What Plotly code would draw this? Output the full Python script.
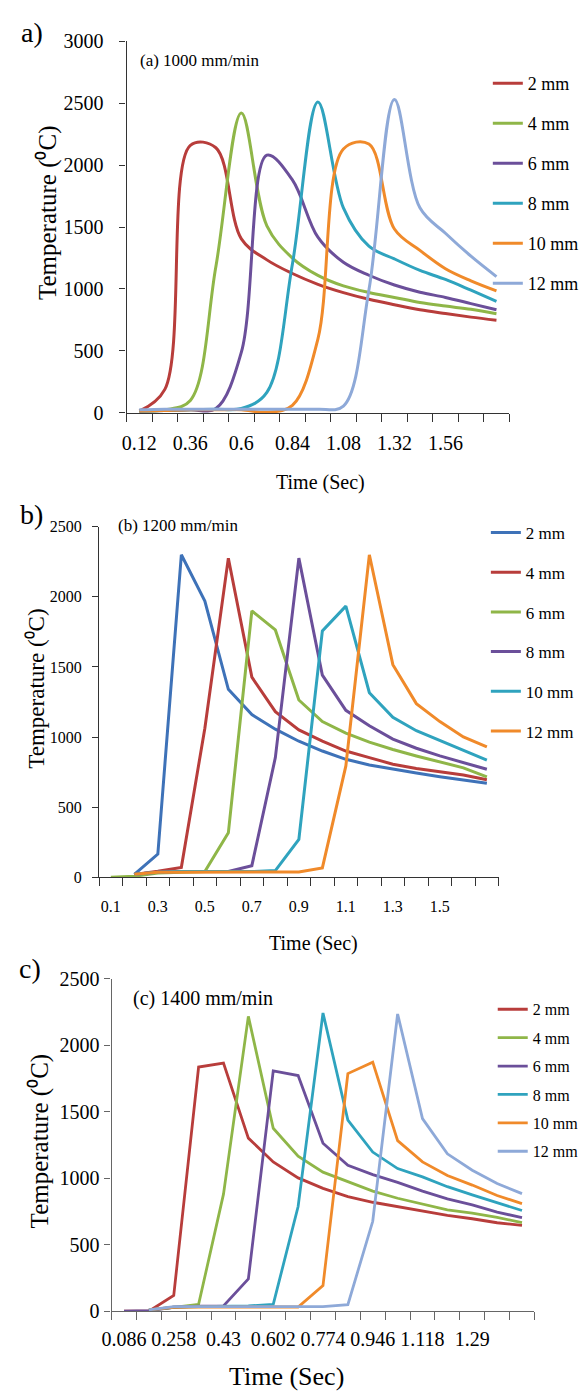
import plotly.graph_objects as go

W, H = 584, 1400
FONT = "Liberation Serif, Times New Roman, serif"

sizes = ["2 mm", "4 mm", "6 mm", "8 mm", "10 mm", "12 mm"]

# (a) 1000 mm/min
time_a = [0.12, 0.24, 0.36, 0.48, 0.60, 0.72, 0.84, 0.96, 1.08, 1.20, 1.32, 1.44, 1.56, 1.68, 1.80]
ticks_a = ["0.12", "0.36", "0.6", "0.84", "1.08", "1.32", "1.56"]
a_2mm = [15, 190, 2160, 2140, 1405, 1235, 1125, 1038, 971, 917, 873, 833, 802, 773, 748]
a_4mm = [15, 25, 100, 1180, 2420, 1510, 1250, 1110, 1025, 972, 932, 891, 862, 836, 800]
a_6mm = [15, 20, 25, 35, 490, 2080, 1880, 1418, 1216, 1111, 1032, 974, 932, 882, 832]
a_8mm = [15, 20, 25, 30, 35, 165, 1200, 2510, 1655, 1346, 1243, 1150, 1077, 990, 900]
a_10mm = [15, 20, 25, 25, 25, 5, 60, 596, 2130, 2170, 1484, 1312, 1164, 1066, 985]
a_12mm = [25, 30, 30, 30, 30, 30, 30, 30, 55, 992, 2530, 1655, 1450, 1265, 1100]

# (b) 1200 mm/min
time_b = [0.1, 0.2, 0.3, 0.4, 0.5, 0.6, 0.7, 0.8, 0.9, 1.0, 1.1, 1.2, 1.3, 1.4, 1.5, 1.6, 1.7]
ticks_b = ["0.1", "0.3", "0.5", "0.7", "0.9", "1.1", "1.3", "1.5"]
b_2mm = [None, 20, 165, 2300, 1970, 1340, 1160, 1056, 970, 900, 841, 801, 771, 743, 717, 695, 670]
b_4mm = [None, 20, 42, 70, 1063, 2276, 1427, 1181, 1051, 970, 900, 853, 806, 776, 752, 729, 695]
b_6mm = [0, 7, 30, 35, 40, 316, 1900, 1764, 1264, 1110, 1028, 963, 911, 865, 822, 780, 715]
b_8mm = [None, 20, 35, 40, 40, 40, 82, 853, 2276, 1441, 1190, 1080, 985, 920, 865, 815, 770]
b_10mm = [None, 20, 35, 40, 40, 40, 40, 47, 269, 1757, 1934, 1316, 1140, 1045, 975, 900, 835]
b_12mm = [None, 20, 35, 35, 35, 35, 35, 35, 37, 66, 794, 2300, 1516, 1238, 1110, 1000, 930]

# (c) 1400 mm/min
time_c = [0.086, 0.172, 0.258, 0.344, 0.43, 0.516, 0.602, 0.688, 0.774, 0.86, 0.946,
          1.032, 1.118, 1.204, 1.29, 1.376, 1.462]
ticks_c = ["0.086", "0.258", "0.43", "0.602", "0.774", "0.946", "1.118", "1.29"]
c_2mm = [0, 0, 119, 1835, 1865, 1301, 1122, 1002, 923, 861, 819, 787, 757, 720, 695, 665, 645]
c_4mm = [None, 7, 32, 52, 880, 2216, 1375, 1166, 1045, 973, 903, 849, 804, 762, 738, 705, 666]
c_6mm = [0, 5, 30, 38, 40, 243, 1806, 1771, 1262, 1097, 1027, 968, 903, 844, 799, 745, 703]
c_8mm = [None, 10, 30, 35, 38, 40, 52, 787, 2241, 1437, 1196, 1072, 1010, 936, 874, 815, 757]
c_10mm = [None, 10, 30, 32, 32, 32, 32, 32, 193, 1786, 1872, 1282, 1122, 1020, 948, 870, 809]
c_12mm = [None, 10, 35, 35, 35, 35, 35, 35, 35, 50, 676, 2234, 1447, 1183, 1060, 960, 884]

RED, GREEN, PURPLE = "#B83D3B", "#8FB648", "#6B4F9A"
TEAL, ORANGE, LIGHT, BLUE = "#2FA3BE", "#F08A2A", "#8EA9D8", "#3E72B8"
colors_ac = [RED, GREEN, PURPLE, TEAL, ORANGE, LIGHT]
colors_b = [BLUE, RED, GREEN, PURPLE, TEAL, ORANGE]


def fx(px):
    return px / W


def fy(py):
    return 1 - py / H


def bounds(times):
    step = times[1] - times[0]
    return [t - step / 2 for t in times] + [times[-1] + step / 2]


fig = go.Figure()


def add_panel(times, series, colors, n, shape, width):
    xa = "x" if n == 1 else f"x{n}"
    ya = "y" if n == 1 else f"y{n}"
    lg = "legend" if n == 1 else f"legend{n}"
    for name, vals, col in zip(sizes, series, colors):
        fig.add_trace(go.Scatter(
            x=times, y=vals, mode="lines", name=name,
            line=dict(color=col, width=width, shape=shape, smoothing=1),
            xaxis=xa, yaxis=ya, legend=lg, legendgroup=f"{n}{name}",
        ))


add_panel(time_a, [a_2mm, a_4mm, a_6mm, a_8mm, a_10mm, a_12mm], colors_ac, 1, "spline", 3)
add_panel(time_b, [b_2mm, b_4mm, b_6mm, b_8mm, b_10mm, b_12mm], colors_b, 2, "linear", 3)
add_panel(time_c, [c_2mm, c_4mm, c_6mm, c_8mm, c_10mm, c_12mm], colors_ac, 3, "linear", 2.8)


def x_axis(px0, px1, times, ticktext, size, color, standoff, anchor):
    b = bounds(times)
    return dict(
        domain=[fx(px0), fx(px1)], range=[b[0], b[-1]], anchor=anchor,
        tickmode="array", tickvals=times[0::2][:len(ticktext)], ticktext=ticktext,
        ticks="", showline=True, linecolor=color, linewidth=1.3,
        showgrid=False, zeroline=False, tickfont=dict(size=size, color="black"),
        ticklabelstandoff=standoff,
        minor=dict(tickmode="array", tickvals=b, ticks="outside", ticklen=8,
                   tickcolor=color, tickwidth=1.3, showgrid=False),
    )


def y_axis(py_top, py_bot, ymax, size, color, standoff, anchor):
    return dict(
        domain=[fy(py_bot), fy(py_top)], range=[0, ymax], anchor=anchor,
        tickmode="linear", tick0=0, dtick=500, ticks="outside", ticklen=6,
        tickcolor=color, tickwidth=1.3, showline=True, linecolor=color, linewidth=1.3,
        showgrid=False, zeroline=False, tickfont=dict(size=size, color="black"),
        ticklabelstandoff=standoff,
    )


fig.update_layout(
    width=W, height=H,
    margin=dict(l=0, r=0, t=0, b=0),
    paper_bgcolor="white", plot_bgcolor="white",
    font=dict(family=FONT, color="black"),
    xaxis=x_axis(118.8, 508.8, time_a, ticks_a, 20, "#333333", 12, "y"),
    yaxis=y_axis(30.7, 408.3, 3000, 20, "#333333", 12, "x"),
    xaxis2=x_axis(90.8, 498, time_b, ticks_b, 16, "#333333", 14, "y2"),
    yaxis2=y_axis(524, 880, 2500, 16, "#333333", 7, "x2"),
    xaxis3=x_axis(103.5, 534.5, time_c, ticks_c, 20, "#666666", 10, "y3"),
    yaxis3=y_axis(983, 1321, 2500, 20, "#666666", 1, "x3"),
    legend=dict(x=fx(487), y=fy(55), xanchor="left", yanchor="top",
                font=dict(size=18), tracegroupgap=13.6, bgcolor="rgba(0,0,0,0)"),
    legend2=dict(x=fx(485), y=fy(512), xanchor="left", yanchor="top",
                 font=dict(size=17), tracegroupgap=14.6, bgcolor="rgba(0,0,0,0)"),
    legend3=dict(x=fx(492), y=fy(997), xanchor="left", yanchor="top",
                 font=dict(size=16), tracegroupgap=4.6, bgcolor="rgba(0,0,0,0)"),
    showlegend=True,
)

annotations = [
    # panel letters
    ("a)", 22, 22, 28, 0), ("b)", 22, 512, 28, 0), ("c)", 20, 973, 28, 0),
    # axis titles
    ("Time (Sec)", 316, 479, 20, 0), ("Time (Sec)", 309, 947, 20, 0),
    ("Time (Sec)", 282, 1387, 26, 0),
    ("Temperature (\u2070C)", 38, 205, 25, -90),
    ("Temperature (\u2070C)", 27, 688, 23, -90),
    ("Temperature (\u2070C)", 31, 1148, 25, -90),
]
for text, px, py, size, angle in annotations:
    fig.add_annotation(text=text, x=fx(px), y=fy(py), xref="paper", yref="paper",
                       xanchor="center", yanchor="middle", showarrow=False,
                       textangle=angle, font=dict(size=size, family=FONT))

for text, px, py, size in [("(a) 1000 mm/min", 130, 50, 17),
                           ("(b) 1200 mm/min", 108, 523, 17),
                           ("(c) 1400 mm/min", 123, 1003, 20)]:
    fig.add_annotation(text=text, x=fx(px), y=fy(py), xref="paper", yref="paper",
                       xanchor="left", yanchor="middle", showarrow=False,
                       font=dict(size=size, family=FONT))

# page margin off so the 584x1400 figure fills the window exactly
fig.write_html("out.html", config={"displayModeBar": False},
               post_script="document.body.style.margin = '0';")
